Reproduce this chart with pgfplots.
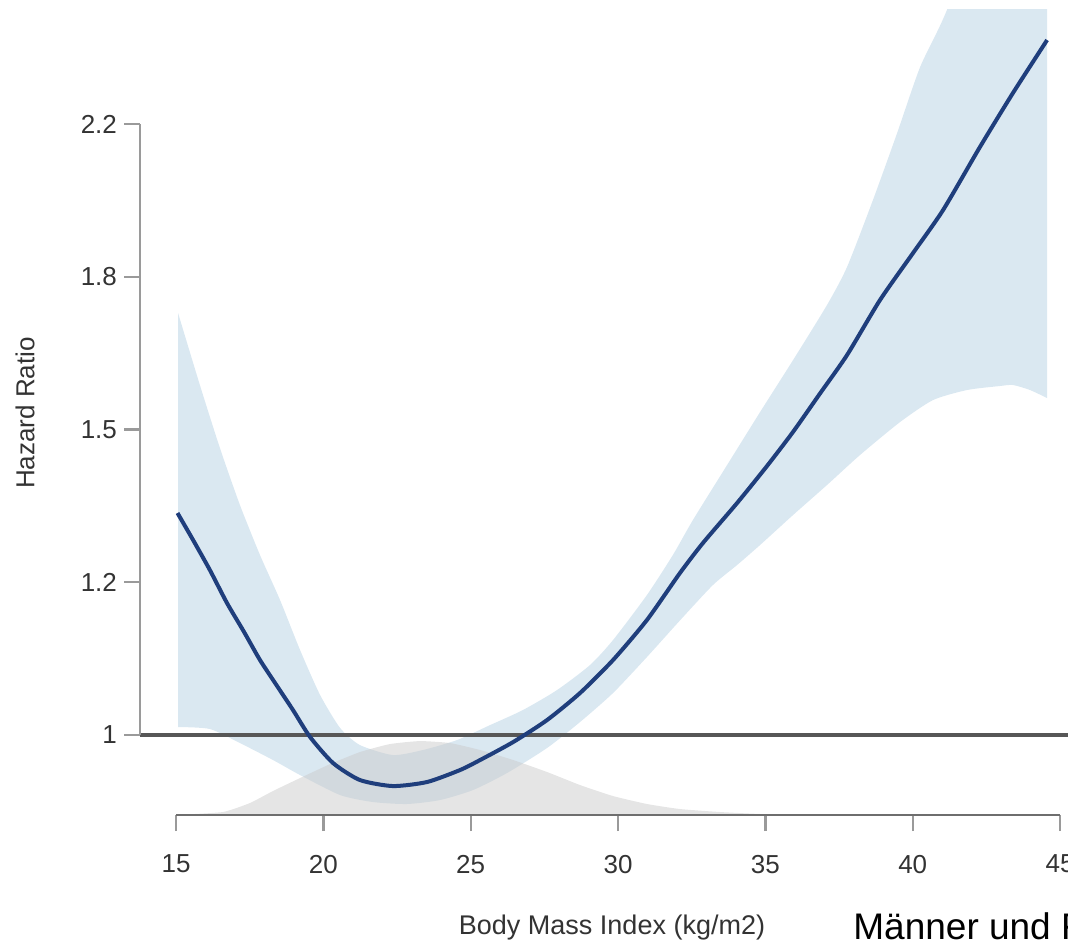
\documentclass[border=0pt]{standalone}
\usepackage{fontspec}
\setmainfont{Liberation Sans}
\usepackage{xcolor}
\usepackage{tikz}
\usepackage{pgfplots}
\usepgfplotslibrary{fillbetween}
\pgfplotsset{compat=1.18}
\definecolor{bandblue}{HTML}{D1E2EE}
\definecolor{densgray}{HTML}{CBCBCB}
\definecolor{curve}{HTML}{1F3E7C}
\definecolor{refline}{HTML}{575757}
\definecolor{yaxis}{HTML}{9A9A9A}
\definecolor{xaxis}{HTML}{6E6E6E}
\definecolor{txt}{HTML}{333333}

% 1 px of the reference = 0.5pt; y is log(HR), labelled with exp()
\begin{document}
\begin{tikzpicture}
\begin{axis}[
  at={(70pt,63.5pt)}, anchor=south west,
  scale only axis, width=489.5pt, height=402.76pt,
  xmin=13.778, xmax=47, ymin=-0.1047, ymax=0.95,
  axis lines*=left, axis line style={draw=none},
  xtick={15,20,25,30,35,40,45},
  ytick={0,0.2,0.4,0.6,0.8},
  yticklabels={1,1.2,1.5,1.8,2.2},
  tick align=outside, major tick length=8pt,
  tick style={color=yaxis, line width=1.2pt},
  /pgf/number format/assume math mode=true,
  tick label style={font=\fontsize{13}{15}\selectfont, color=txt},
  yticklabel style={anchor=east},
  xticklabel style={anchor=north, yshift=-8.5pt},
]
% density of BMI (grey, drawn from the x axis; see-through so the band shows)
\addplot[draw=none, fill=densgray, fill opacity=0.5, smooth, tension=0.3] coordinates {
  (15.0,-0.1047) (16.59,-0.1008) (17.51,-0.0890) (18.29,-0.0733) (19.21,-0.0563)
  (20.23,-0.0380) (21.24,-0.0223) (22.26,-0.0118) (23.28,-0.0079) (24.30,-0.0105)
  (25.32,-0.0196) (26.44,-0.0327) (27.59,-0.0484) (28.71,-0.0655) (29.83,-0.0799)
  (30.98,-0.0903) (32.10,-0.0969) (33.46,-0.1008) (34.82,-0.1034) (36.17,-0.1047)
  (15.0,-0.1047)};
% 95% confidence limits
\addplot[name path=up, draw=none, smooth, tension=0.4] coordinates {
  (15.07,0.5525) (15.81,0.4583) (16.49,0.3758) (17.17,0.3011) (17.85,0.2357)
  (18.53,0.1768) (19.21,0.1113) (19.89,0.0524) (20.57,0.0092) (21.24,-0.0131)
  (22.36,-0.0262) (23.38,-0.0196) (24.54,-0.0065) (25.66,0.0131) (26.77,0.0327)
  (27.93,0.0589) (29.05,0.0917) (29.83,0.1244) (30.98,0.1833) (31.86,0.2357)
  (32.54,0.2815) (33.70,0.3535) (34.82,0.4229) (35.94,0.4910) (37.09,0.5630)
  (37.77,0.6128) (38.65,0.7005) (39.47,0.7882) (40.25,0.8746) (41.16,0.9493)
  (42.96,1.1326) (44.56,1.2962)};
\addplot[name path=lo, draw=none, smooth, tension=0.4] coordinates {
  (15.07,0.0105) (16.15,0.0079) (17.17,-0.0105) (18.29,-0.0327) (19.21,-0.0524)
  (20.57,-0.0786) (21.68,-0.0877) (22.84,-0.0903) (23.96,-0.0851) (25.08,-0.0720)
  (26.23,-0.0498) (27.59,-0.0170) (28.71,0.0170) (29.83,0.0550) (30.98,0.1021)
  (32.10,0.1500) (33.22,0.1964) (34.04,0.2226) (34.82,0.2488) (35.94,0.2881)
  (37.09,0.3273) (38.21,0.3666) (39.57,0.4098) (40.69,0.4386) (41.84,0.4517)
  (42.96,0.4570) (43.40,0.4583) (43.98,0.4517) (44.56,0.4412)};
\addplot[fill=bandblue, fill opacity=0.8] fill between[of=up and lo];
% reference line HR = 1
\draw[refline, line width=2pt] (axis cs:13.778,0) -- (axis cs:47,0);
% spline estimate
\addplot[curve, line width=2pt, smooth, tension=0.4] coordinates {
  (15.05,0.2907) (15.58,0.2553) (16.15,0.2160) (16.73,0.1728) (17.31,0.1349)
  (17.85,0.0982) (18.43,0.0642) (18.97,0.0327) (19.55,-0.0026) (20.33,-0.0367)
  (21.24,-0.0589) (22.36,-0.0668) (23.52,-0.0615) (24.64,-0.0458) (25.32,-0.0327)
  (26.44,-0.0092) (27.59,0.0196) (28.71,0.0550) (29.83,0.0982) (30.98,0.1506)
  (32.10,0.2121) (32.88,0.2514) (34.04,0.3038) (35.05,0.3520) (35.94,0.3970)
  (36.85,0.4470) (37.77,0.4975) (38.89,0.5696) (40.01,0.6311) (41.03,0.6874)
  (42.28,0.7699) (43.40,0.8406) (44.56,0.9100)};
\coordinate (y0) at (axis cs:13.778,0);
\coordinate (y1) at (axis cs:13.778,0.8);
\coordinate (x0) at (axis cs:15,-0.1047);
\coordinate (x1) at (axis cs:45,-0.1047);
\end{axis}
% R style axis lines
\draw[yaxis, line width=1.3pt] (y0) -- (y1);
\draw[xaxis, line width=1pt] (x0) -- (x1);
\node[font=\fontsize{13.5}{15}\selectfont, color=txt] at (306pt,7pt) {Body Mass Index (kg/m2)};
\node[font=\fontsize{13}{15}\selectfont, color=txt, rotate=90] at (12.5pt,264.5pt) {Hazard Ratio};
\node[anchor=base west, inner sep=0pt, font=\fontsize{18.5}{22}\selectfont] at (426.5pt,1.5pt) {Männer und Frauen};
\pgfresetboundingbox
\path[use as bounding box] (0pt,0pt) rectangle (534pt,471pt);
\end{tikzpicture}
\end{document}
